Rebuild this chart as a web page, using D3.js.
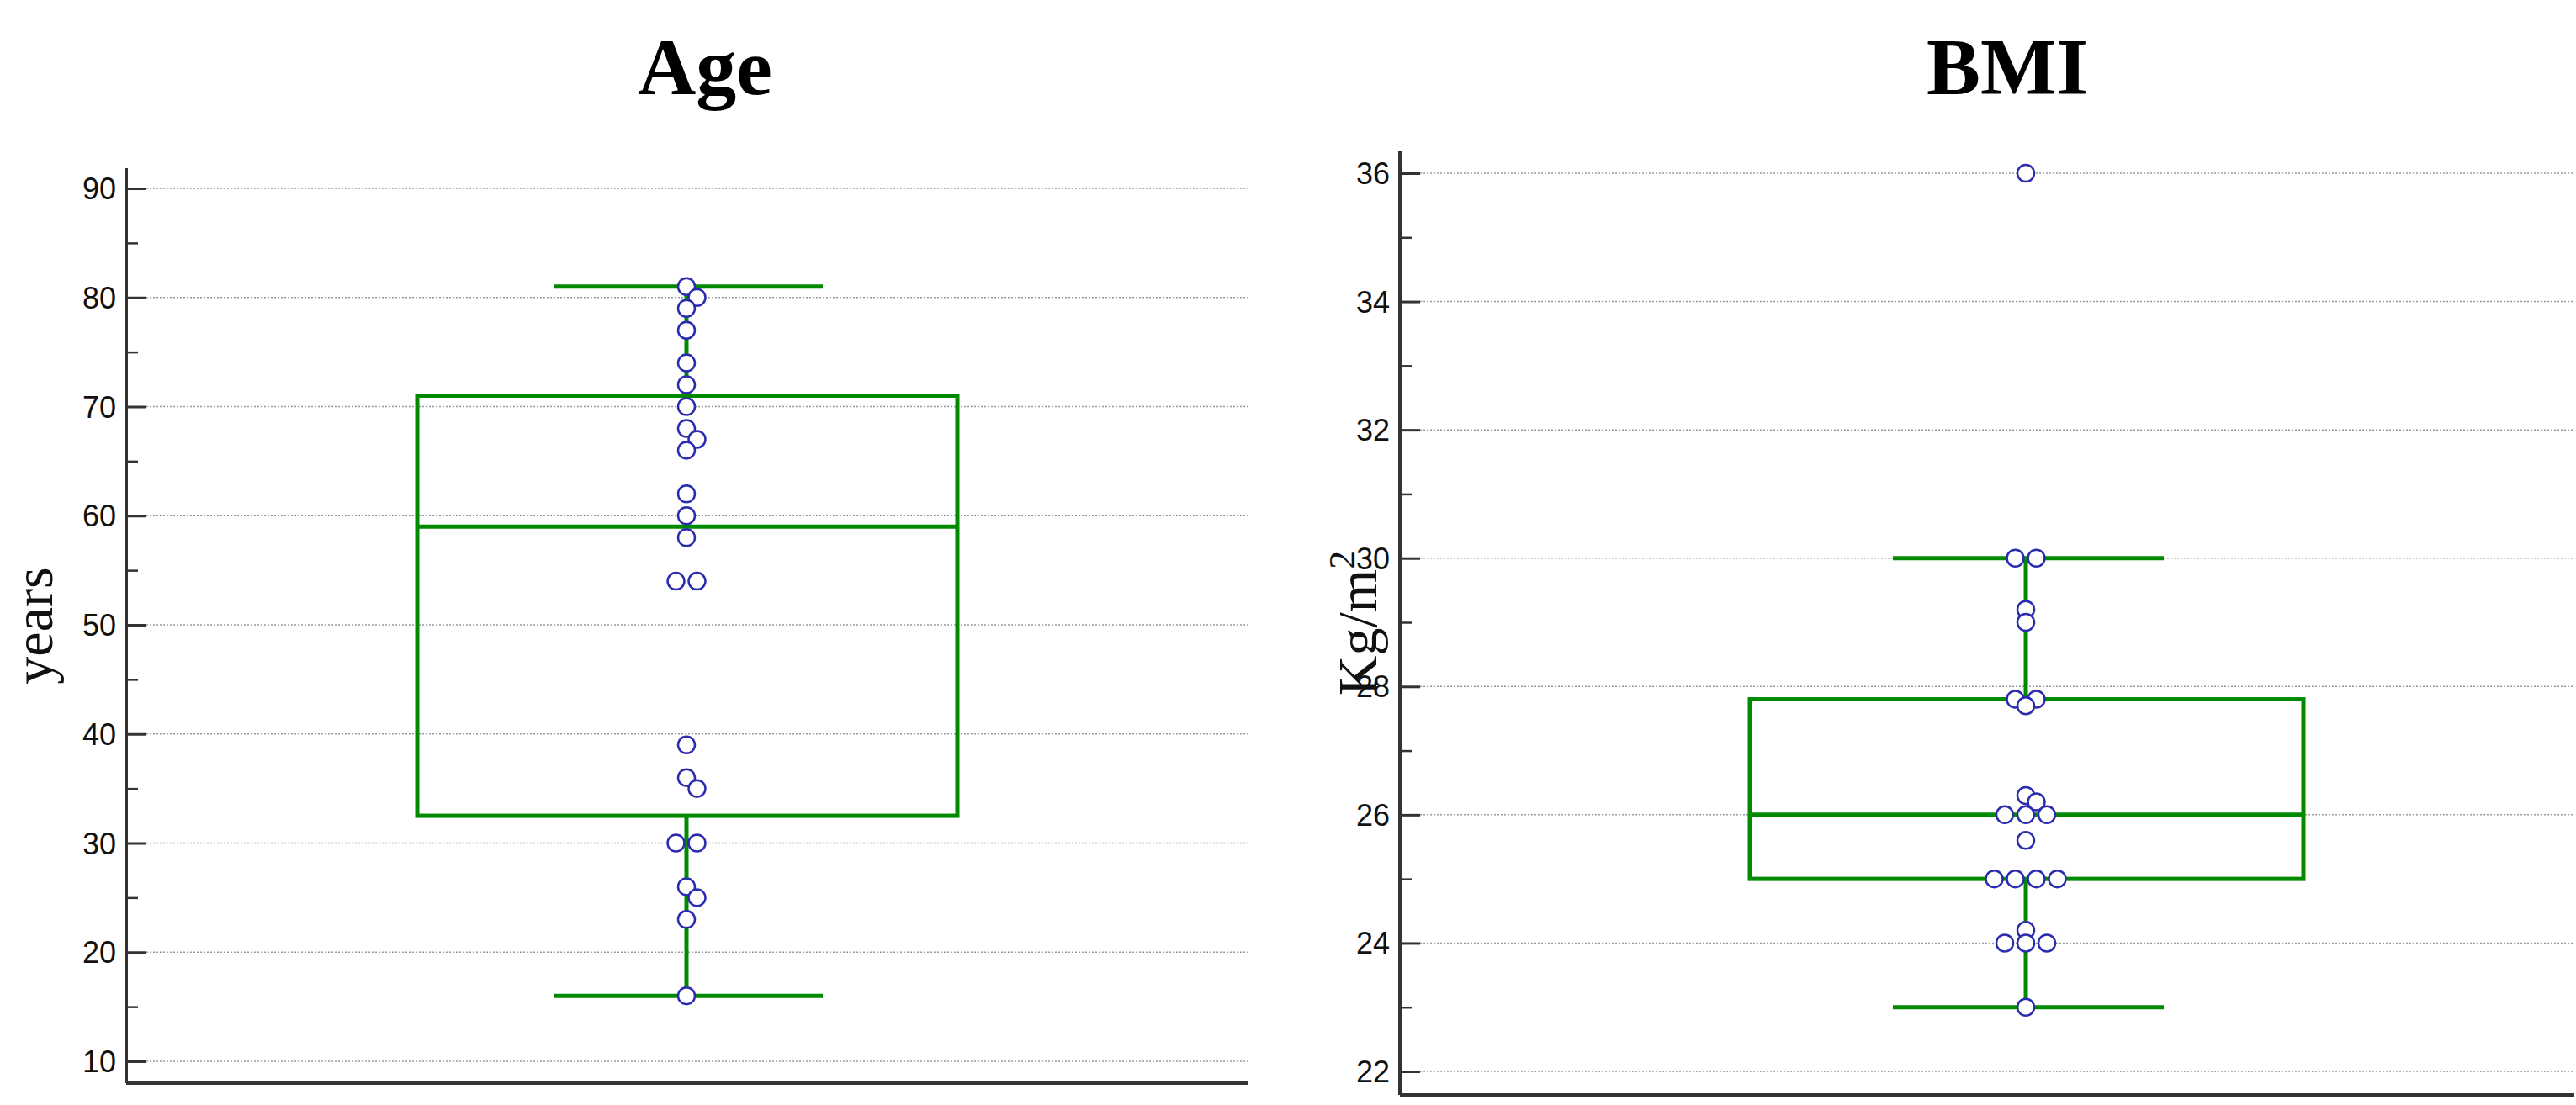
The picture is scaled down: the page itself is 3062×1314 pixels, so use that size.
<!DOCTYPE html>
<html>
<head>
<meta charset="utf-8">
<script src="https://cdn.jsdelivr.net/npm/d3@7"></script>
<style>
  body { margin: 0; background: #fff; }
</style>
</head>
<body>
<svg id="canvas"></svg>
<script>
const width = 3062;
const height = 1314;

// Age panel
const ageValues = [81, 80, 79, 77, 74, 72, 70, 68, 67, 66, 62, 60, 58, 54, 54, 39, 36, 35, 30, 30, 26, 25, 23, 16];
const ageBox = { q1: 32.5, median: 59, q3: 71, low: 16, high: 81 };
const ageTicks = [10, 20, 30, 40, 50, 60, 70, 80, 90];

// BMI panel
const bmiValues = [36, 30, 30, 29.2, 29.0, 27.8, 27.8, 27.7, 26.3, 26.2, 26, 26, 26, 25.6, 25, 25, 25, 25, 24.2, 24, 24, 24, 23];
const bmiBox = { q1: 25, median: 26, q3: 27.8, low: 23, high: 30 };
const bmiTicks = [22, 24, 26, 28, 30, 32, 34, 36];

const canvas = d3.select('#canvas').attr('width', width).attr('height', height);

const green = '#008a00';
const dotR = 10;

const drawPanel = (cfg) => {
	const g = canvas.append('g');
	const y = d3.scaleLinear().domain(cfg.domain).range([cfg.yBottom, cfg.yTop]);

	// grid
	g.selectAll('.grid')
		.data(cfg.ticks)
		.enter()
		.append('line')
		.attr('x1', cfg.x0 + 24)
		.attr('x2', cfg.x1)
		.attr('y1', (d) => y(d))
		.attr('y2', (d) => y(d))
		.attr('stroke', '#999')
		.attr('stroke-width', 1.5)
		.attr('stroke-dasharray', '2,2');

	// minor + major ticks inside the axis
	const axis = d3.axisRight(y).tickValues(cfg.minor).tickSize(14).tickFormat('');
	const ax = g.append('g').attr('transform', `translate(${cfg.x0},0)`).call(axis);
	ax.select('.domain').remove();
	ax.selectAll('line').attr('stroke', '#333').attr('stroke-width', 2.5);

	const axMaj = d3.axisRight(y).tickValues(cfg.ticks).tickSize(24).tickFormat('');
	const ax2 = g.append('g').attr('transform', `translate(${cfg.x0},0)`).call(axMaj);
	ax2.select('.domain').remove();
	ax2.selectAll('line').attr('stroke', '#333').attr('stroke-width', 3);

	g.selectAll('.tl')
		.data(cfg.ticks)
		.enter()
		.append('text')
		.attr('x', cfg.x0 - 12)
		.attr('y', (d) => y(d) + 13)
		.attr('text-anchor', 'end')
		.attr('font-family', 'Liberation Sans, Arial, sans-serif')
		.attr('font-size', 36)
		.attr('fill', '#111')
		.text((d) => d);

	g.append('line')
		.attr('x1', cfg.x0).attr('x2', cfg.x0)
		.attr('y1', cfg.axisTop).attr('y2', cfg.axisY)
		.attr('stroke', '#333').attr('stroke-width', 4);
	g.append('line')
		.attr('x1', cfg.x0).attr('x2', cfg.x1)
		.attr('y1', cfg.axisY).attr('y2', cfg.axisY)
		.attr('stroke', '#333').attr('stroke-width', 4);

	// title and y label
	g.append('text')
		.attr('x', cfg.titleX).attr('y', 112)
		.attr('text-anchor', 'middle')
		.attr('font-family', 'Liberation Serif, DejaVu Serif, serif')
		.attr('font-weight', 'bold')
		.attr('font-size', 96)
		.text(cfg.title);

	const lbl = g.append('text')
		.attr('transform', `translate(${cfg.labelX},${(cfg.axisTop + cfg.axisY) / 2}) rotate(-90)`)
		.attr('text-anchor', 'middle')
		.attr('font-family', 'Liberation Serif, DejaVu Serif, serif')
		.attr('font-size', 66)
		.attr('fill', '#111');
	lbl.append('tspan').text(cfg.label);
	if (cfg.sup) lbl.append('tspan').attr('dy', -26).attr('font-size', 44).text(cfg.sup);

	// box
	const b = cfg.box;
	const cx = cfg.cx;
	const line = (x1, y1, x2, y2) =>
		g.append('line').attr('x1', x1).attr('y1', y1).attr('x2', x2).attr('y2', y2)
			.attr('stroke', green).attr('stroke-width', 5);
	line(cx, y(b.q1), cx, y(b.low));
	line(cx, y(b.q3), cx, y(b.high));
	line(cfg.capL, y(b.low), cfg.capR, y(b.low));
	line(cfg.capL, y(b.high), cfg.capR, y(b.high));
	g.append('rect')
		.attr('x', cfg.boxL).attr('y', y(b.q3))
		.attr('width', cfg.boxR - cfg.boxL).attr('height', y(b.q1) - y(b.q3))
		.attr('fill', 'none').attr('stroke', green).attr('stroke-width', 5);
	line(cfg.boxL, y(b.median), cfg.boxR, y(b.median));

	// simple beeswarm
	const step = 2 * dotR + 5;
	const cands = [0];
	for (let k = 1; k < 8; k++) cands.push(k * step / 2, -k * step / 2);
	const placed = [];
	cfg.values.forEach((v) => {
		const py = y(v);
		const same = cfg.values.filter((w) => w === v).length;
		let pick = 0;
		if (same > 1) {
			const idx = placed.filter((p) => p.v === v).length;
			pick = (idx - (same - 1) / 2) * step;
		} else {
			for (const c of cands) {
				const ok = placed.every((p) => Math.hypot(p.x - c, p.y - py) >= 1.4 * dotR);
				if (ok) { pick = c; break; }
			}
		}
		placed.push({ v: v, x: pick, y: py });
	});
	g.selectAll('.dot')
		.data(placed)
		.enter()
		.append('circle')
		.attr('cx', (p) => cx + p.x)
		.attr('cy', (p) => p.y)
		.attr('r', dotR)
		.attr('fill', '#fff')
		.attr('stroke', '#2b2bb0')
		.attr('stroke-width', 2.5);
};

drawPanel({
	title: 'Age', titleX: 838, label: 'years', labelX: 62,
	values: ageValues, box: ageBox, ticks: ageTicks,
	minor: d3.range(15, 90, 10),
	domain: [10, 90], yBottom: 1262, yTop: 224, axisTop: 200, axisY: 1288,
	x0: 150, x1: 1484, cx: 816, boxL: 496, boxR: 1138, capL: 658, capR: 978
});

drawPanel({
	title: 'BMI', titleX: 2386, label: 'Kg/m', sup: '2', labelX: 1636,
	values: bmiValues, box: bmiBox, ticks: bmiTicks,
	minor: d3.range(23, 36, 2),
	domain: [22, 36], yBottom: 1274, yTop: 206, axisTop: 180, axisY: 1302,
	x0: 1664, x1: 3060, cx: 2408, boxL: 2080, boxR: 2738, capL: 2250, capR: 2572
});
</script>
</body>
</html>
